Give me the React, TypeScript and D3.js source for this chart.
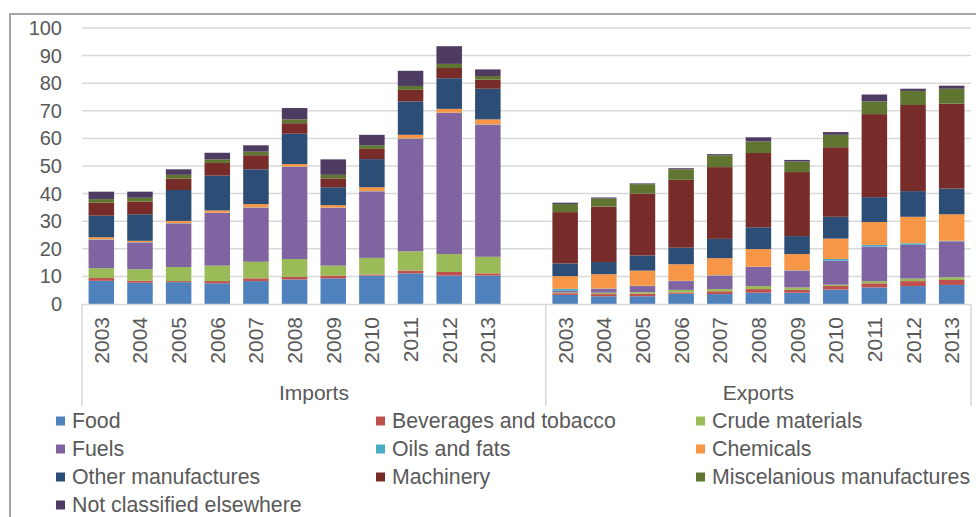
import { useMemo } from 'react';
import * as d3 from 'd3';

// values in the order: Imports 2003..2013, Exports 2003..2013
const years = ['2003', '2004', '2005', '2006', '2007', '2008', '2009', '2010', '2011', '2012', '2013'];
const groups = ['Imports', 'Exports'];

const food = [8.4, 7.7, 7.9, 7.5, 8.3, 8.9, 9.3, 10.3, 11.1, 10.3, 10.3,
  3.3, 2.8, 2.8, 3.7, 3.6, 4.1, 4.1, 5.2, 6.0, 6.5, 6.9];
const beverages = [1.0, 0.7, 0.4, 0.8, 1.0, 0.9, 1.0, 0.4, 1.0, 1.3, 0.8,
  0.6, 0.8, 0.9, 0.5, 1.0, 1.3, 1.0, 1.3, 1.5, 1.8, 1.8];
const crude = [3.6, 4.2, 5.1, 5.6, 6.0, 6.5, 3.6, 6.0, 7.0, 6.5, 6.0,
  0.3, 0.5, 0.6, 0.9, 0.8, 1.1, 0.9, 0.5, 0.8, 0.9, 1.0];
const fuels = [10.2, 9.7, 15.8, 19.1, 19.6, 33.4, 20.9, 24.1, 40.8, 51.1, 47.9,
  0.6, 1.4, 2.2, 3.2, 4.9, 6.9, 6.1, 8.7, 12.5, 12.2, 13.0];
const oils = [0.2, 0.1, 0.1, 0.1, 0.1, 0.1, 0.1, 0.1, 0.1, 0.1, 0.1,
  0.7, 0.1, 0.1, 0.1, 0.1, 0.1, 0.1, 0.6, 0.6, 0.6, 0.2];
const chemicals = [0.8, 0.5, 0.8, 0.8, 1.2, 0.9, 0.9, 1.4, 1.3, 1.4, 1.8,
  4.6, 5.2, 5.5, 6.0, 6.2, 6.4, 5.9, 7.4, 8.3, 9.6, 9.6];
const otherManufactures = [7.8, 9.6, 11.2, 12.6, 12.6, 11.0, 6.5, 10.2, 12.1, 11.1, 11.1,
  4.6, 4.4, 5.5, 6.0, 7.0, 7.9, 6.5, 7.9, 9.0, 9.3, 9.3];
const machinery = [4.7, 4.6, 4.1, 4.6, 5.1, 3.8, 3.2, 3.7, 4.2, 3.7, 3.3,
  18.6, 20.1, 22.4, 24.6, 26.0, 26.9, 23.2, 25.2, 30.1, 31.2, 30.8];
const miscManufactures = [1.3, 1.4, 1.4, 1.3, 1.3, 1.4, 1.3, 1.3, 1.4, 1.5, 1.3,
  2.9, 2.9, 3.4, 3.8, 4.3, 4.2, 3.8, 4.5, 4.6, 5.1, 5.4];
const notClassified = [2.7, 2.2, 2.0, 2.4, 2.3, 4.1, 5.6, 3.8, 5.5, 6.4, 2.4,
  0.5, 0.4, 0.3, 0.4, 0.4, 1.5, 0.6, 1.0, 2.5, 0.8, 1.1];

const series = [
  { name: 'Food', values: food, color: '#4f81bd' },
  { name: 'Beverages and tobacco', values: beverages, color: '#c0504d' },
  { name: 'Crude materials', values: crude, color: '#9bbb59' },
  { name: 'Fuels', values: fuels, color: '#8064a2' },
  { name: 'Oils and fats', values: oils, color: '#4bacc6' },
  { name: 'Chemicals', values: chemicals, color: '#f79646' },
  { name: 'Other manufactures', values: otherManufactures, color: '#2c4d75' },
  { name: 'Machinery', values: machinery, color: '#772c2a' },
  { name: 'Miscelanious manufactures', values: miscManufactures, color: '#5f7530' },
  { name: 'Not classified elsewhere', values: notClassified, color: '#4d3b62' },
];

const yTicks = [0, 10, 20, 30, 40, 50, 60, 70, 80, 90, 100];

const width = 976;
const height = 517;
const marginLeft = 82;
const marginRight = 5;
const plotTop = 28;
const plotBottom = 304;
const font = '"Liberation Sans", Arial, sans-serif';
const textColor = '#595959';
const gridColor = '#d9d9d9';

export default function App() {
  // 11 imports slots, one empty slot, 11 exports slots
  const slots = useMemo(() => [
    ...years.map((yr) => `Imports-${yr}`),
    'Imports-gap',
    ...years.map((yr) => `Exports-${yr}`),
  ], []);

  const rows = useMemo(() => {
    const out: Record<string, any>[] = [];
    groups.forEach((g, gi) => {
      years.forEach((yr, i) => {
        const row: Record<string, any> = { key: `${g}-${yr}` };
        series.forEach((s) => { row[s.name] = s.values[gi * years.length + i]; });
        out.push(row);
      });
    });
    return out;
  }, []);

  const x = d3.scaleBand<string>()
    .domain(slots)
    .range([marginLeft, width - marginRight])
    .paddingInner(0.34)
    .paddingOuter(0.17);
  const y = d3.scaleLinear([0, 100], [plotBottom, plotTop]);

  const stacked = d3.stack<Record<string, any>>().keys(series.map((s) => s.name))(rows);

  const step = x.step();
  const left = marginLeft;
  const right = width - marginRight;
  const sepX = left + step * 12;
  const groupCenters = [(left + sepX) / 2, (sepX + right) / 2];

  const legendCols = [56, 376, 696];
  const legendRows = [421, 449, 477, 505];

  return (
    <svg width={width} height={height} style={{ position: 'absolute', left: 0, top: 0, background: '#fff' }}
      fontFamily={font}>
      <rect x={10} y={14} width={width + 20} height={height + 20} fill="#fff" stroke="#a6a6a6" strokeWidth={2} />

      <g>
        {yTicks.map((t) => (
          <g key={t}>
            {t > 0 && (
              <line x1={left} x2={right} y1={y(t)} y2={y(t)} stroke={gridColor} strokeWidth={1.5} />
            )}
            <text x={62} y={y(t)} textAnchor="end" dominantBaseline="central" fontSize={20} fill={textColor}>
              {t}
            </text>
          </g>
        ))}
      </g>

      <g>
        {stacked.map((layer, li) => (
          <g key={layer.key} fill={series[li].color}>
            {layer.map((d) => (
              <rect
                key={d.data.key}
                x={x(d.data.key)}
                y={y(d[1])}
                width={x.bandwidth()}
                height={Math.max(0, y(d[0]) - y(d[1]))}
              />
            ))}
          </g>
        ))}
      </g>

      <g stroke={gridColor} strokeWidth={1.5}>
        <line x1={left} x2={right} y1={plotBottom + 0.5} y2={plotBottom + 0.5} />
        {[left, sepX, right].map((v, i) => (
          <line key={i} x1={v} x2={v} y1={plotBottom} y2={406} />
        ))}
      </g>

      <g fontSize={21} fill={textColor}>
        {groups.map((g) =>
          years.map((yr) => {
            const key = `${g}-${yr}`;
            const cx = (x(key) ?? 0) + x.bandwidth() / 2;
            return (
              <text key={key} transform={`translate(${cx},317) rotate(-90)`} textAnchor="end" dominantBaseline="central">
                {yr}
              </text>
            );
          })
        )}
        {groups.map((g, i) => (
          <text key={g} x={groupCenters[i]} y={392} textAnchor="middle" dominantBaseline="central">
            {g}
          </text>
        ))}
      </g>

      <g fontSize={21.3} fill={textColor}>
        {series.map((s, i) => {
          const cx = legendCols[i % 3];
          const cy = legendRows[Math.floor(i / 3)];
          return (
            <g key={s.name}>
              <rect x={cx} y={cy - 4.5} width={9} height={9} fill={s.color} />
              <text x={cx + 16} y={cy} dominantBaseline="central">{s.name}</text>
            </g>
          );
        })}
      </g>
    </svg>
  );
}
